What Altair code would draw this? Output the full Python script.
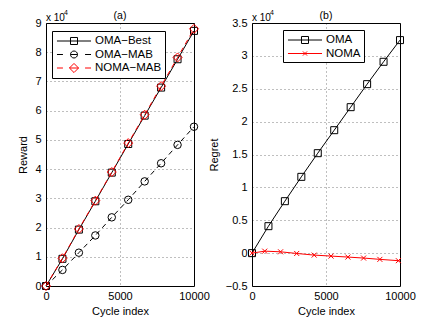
import altair as alt
import pandas as pd

FONT = "Liberation Sans"

# ---- data (values in units of 10^4) ----
cycles = [0, 1111, 2222, 3333, 4444, 5556, 6667, 7778, 8889, 10000]
oma_best = [0, 0.93, 1.93, 2.90, 3.88, 4.86, 5.83, 6.79, 7.76, 8.73]
oma_mab = [0, 0.55, 1.14, 1.73, 2.35, 2.95, 3.58, 4.20, 4.83, 5.45]
noma_mab = [0, 0.95, 1.95, 2.92, 3.90, 4.89, 5.86, 6.84, 7.82, 8.80]

oma_regret = [0, 0.41, 0.79, 1.16, 1.52, 1.87, 2.22, 2.57, 2.91, 3.24]
noma_cycles = [0, 860, 1930, 3020, 4200, 5340, 6480, 7540, 8640, 9890, 10000]
noma_regret = [0, 0.03, 0.02, -0.005, -0.03, -0.045, -0.06, -0.075, -0.095, -0.115, -0.12]
noma_marked = [True] * 10 + [False]

x_ticks = [0, 5000, 10000]
reward_ticks = list(range(10))
regret_ticks = [-0.5, 0, 0.5, 1, 1.5, 2, 2.5, 3, 3.5]

names_a = ["OMA−Best", "OMA−MAB", "NOMA−MAB"]
colors_a = ["black", "black", "red"]
names_b = ["OMA", "NOMA"]
colors_b = ["black", "red"]

# legend symbols: line sample + marker (custom paths)
P_SQ = "M-2.62,0H2.62M-0.54,-0.54H0.54V0.54H-0.54Z"
P_CI = ("M-2.62,0H-1.7M1.7,0H2.62M-0.54,0H0.54"
        "M0.54,0A0.54,0.54,0,1,1,-0.54,0A0.54,0.54,0,1,1,0.54,0")
P_DI = "M-2.62,0H-1.7M1.7,0H2.62M-0.7,0H0.7M0,-0.7L0.7,0L0,0.7L-0.7,0Z"
P_X = "M-2.62,0H2.62M-0.32,-0.32L0.32,0.32M-0.32,0.32L0.32,-0.32"
X_MARK = "M-1,-1L1,1M-1,1L1,-1"

W, H = 148, 263


def xenc():
    return alt.X("c:Q", scale=alt.Scale(domain=[0, 10000], nice=False),
                 axis=alt.Axis(values=x_ticks, title="Cycle index", labelFlush=False,
                               format="d", labelPadding=4, titlePadding=4))


def series_df(xs, ys):
    return pd.DataFrame({"c": xs, "v": ys})


def make_panel(yenc, lines, legend_names, legend_colors, legend_paths, lx, ly, tag):
    layers = []
    for xs, ys, color, dash, shape, size, keep in lines:
        df = series_df(xs, ys)
        kw = dict(color=color, strokeWidth=1)
        if dash:
            kw["strokeDash"] = dash
        layers.append(alt.Chart(df).mark_line(**kw).encode(x=xenc(), y=yenc()))
        dfm = df if keep is None else df[keep]
        layers.append(alt.Chart(dfm).mark_point(shape=shape, size=size, filled=False,
                                                 color=color, strokeWidth=1, opacity=1)
                      .encode(x=xenc(), y=yenc()))
    leg = alt.Legend(title=None, orient="none", legendX=lx, legendY=ly,
                     symbolSize=169, symbolStrokeWidth=1, symbolOffset=12,
                     labelOffset=14, labelFontSize=11.5, labelFont=FONT,
                     labelColor="black", padding=3, rowPadding=0.5, columnPadding=0,
                     strokeColor="black", fillColor="white", cornerRadius=0)
    ldf = pd.DataFrame({"s": legend_names})
    layers.append(alt.Chart(ldf).transform_filter("false")
                  .mark_point(filled=False, opacity=1, strokeWidth=1, size=169)
                  .encode(shape=alt.Shape("s:N", scale=alt.Scale(domain=legend_names, range=legend_paths), legend=leg),
                          color=alt.Color("s:N", scale=alt.Scale(domain=legend_names, range=legend_colors), legend=leg)))
    ann = pd.DataFrame({"t": [tag]})
    layers.append(alt.Chart(ann).mark_text(font=FONT, fontSize=10.5, align="center", baseline="alphabetic", color="black")
                  .encode(text="t:N", x=alt.value(W / 2), y=alt.value(-4)))
    ann2 = pd.DataFrame({"t": ["x 10"]})
    layers.append(alt.Chart(ann2).mark_text(font=FONT, fontSize=10, align="left", baseline="alphabetic", color="black")
                  .encode(text="t:N", x=alt.value(0), y=alt.value(-2)))
    ann3 = pd.DataFrame({"t": ["4"]})
    layers.append(alt.Chart(ann3).mark_text(font=FONT, fontSize=7, align="left", baseline="alphabetic", color="black")
                  .encode(text="t:N", x=alt.value(18), y=alt.value(-8)))
    return alt.layer(*layers).properties(width=W, height=H)


def ya():
    return alt.Y("v:Q", scale=alt.Scale(domain=[0, 9], nice=False, zero=False),
                 axis=alt.Axis(values=reward_ticks, title="Reward", format="d",
                               labelPadding=5, titlePadding=6))


def yb():
    return alt.Y("v:Q", scale=alt.Scale(domain=[-0.5, 3.5], nice=False, zero=False),
                 axis=alt.Axis(values=regret_ticks, title="Regret", format="~g",
                               labelPadding=5, titlePadding=6))


panel_a = make_panel(
    ya,
    [
        (cycles, oma_best, "black", None, "square", 49, None),
        (cycles, oma_mab, "black", [5, 4], "circle", 56, None),
        (cycles, noma_mab, "red", [5, 4], "diamond", 81, None),
    ],
    names_a, colors_a, [P_SQ, P_CI, P_DI], 6, 8, "(a)")

panel_b = make_panel(
    yb,
    [
        (cycles, oma_regret, "black", None, "square", 49, None),
        (noma_cycles, noma_regret, "red", None, X_MARK, 25, noma_marked),
    ],
    names_b, colors_b, [P_SQ, P_X], 31, 7, "(b)")

chart = alt.hconcat(panel_a, panel_b, spacing=58, bounds="flush").resolve_scale(
    x="independent", y="independent", color="independent", shape="independent"
).properties(
    padding={"left": 9, "top": 0, "right": 5, "bottom": 0}
).configure(font=FONT).configure_view(
    stroke="black", strokeWidth=1
).configure_axis(
    domain=False, ticks=False, grid=True, gridColor="#000", gridOpacity=0.5,
    gridDash=[1, 3], gridWidth=1, labelFont=FONT, labelFontSize=11,
    labelColor="black", titleFont=FONT, titleFontSize=11, titleColor="black",
    titleFontWeight="normal"
)

chart.save("out.html", embed_options={"renderer": "svg", "actions": False})
